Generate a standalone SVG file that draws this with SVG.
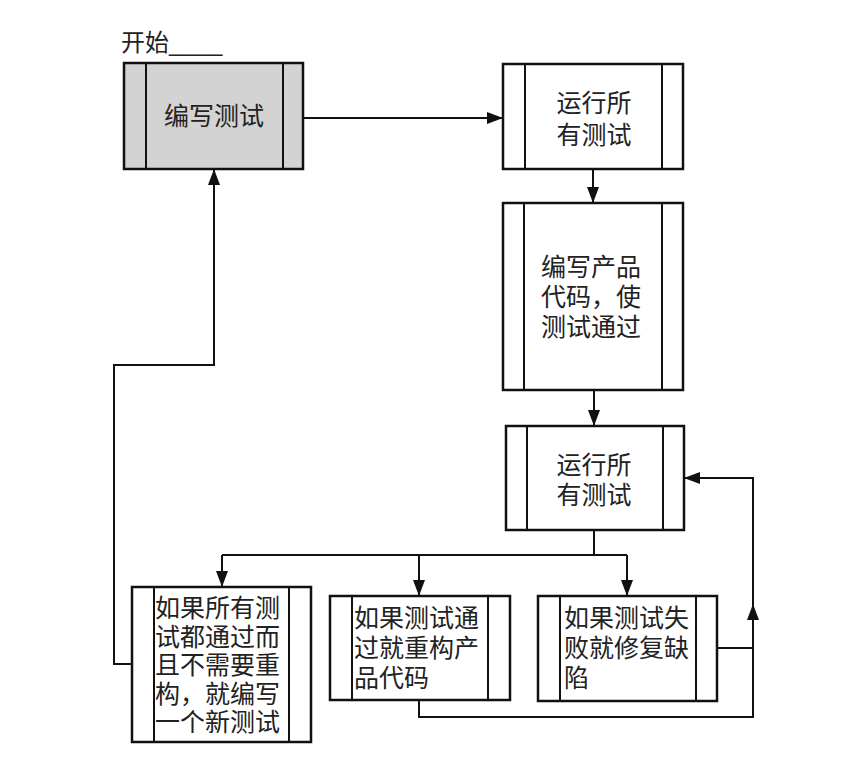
<svg xmlns="http://www.w3.org/2000/svg" width="867" height="758" viewBox="0 0 867 758">
<style>
.box{fill:#ffffff;stroke:#111;stroke-width:2.5}
.start{fill:#d3d3d3}
.bar{stroke:#111;stroke-width:2;fill:none}
.t{font-family:"Noto Sans CJK SC","Noto Sans CJK TC",sans-serif;font-size:25px;fill:#222}
.c{text-anchor:middle}
.lbl{font-family:"Liberation Sans","Noto Sans CJK SC",sans-serif;font-size:24px;fill:#222}
.conn path{fill:none;stroke:#111;stroke-width:2}
</style>
<defs>
<marker id="ah" viewBox="0 0 16 12" refX="16" refY="6" markerWidth="16" markerHeight="12" markerUnits="userSpaceOnUse" orient="auto">
<path d="M0,0 L16,6 L0,12 z" fill="#111"/>
</marker>
</defs>
<rect width="867" height="758" fill="#ffffff"/>

<text class="lbl" x="121" y="51">开始____</text>

<g id="n1">
<rect class="box start" x="124" y="63" width="179" height="106"/>
<path class="bar" d="M146,63 V169 M283,63 V169"/>
<text class="t c" x="214" y="125">编写测试</text>
</g>

<g id="n2">
<rect class="box" x="503" y="64" width="180" height="105"/>
<path class="bar" d="M525,64 V169 M662,64 V169"/>
<text class="t c" x="594" y="112">运行所</text>
<text class="t c" x="594" y="144">有测试</text>
</g>

<g id="n3">
<rect class="box" x="503" y="203" width="180" height="187"/>
<path class="bar" d="M524,203 V390 M662,203 V390"/>
<text class="t c" x="591" y="276">编写产品</text>
<text class="t c" x="591" y="306">代码，使</text>
<text class="t c" x="591" y="336">测试通过</text>
</g>

<g id="n4">
<rect class="box" x="506" y="426" width="178" height="104"/>
<path class="bar" d="M527,426 V530 M663,426 V530"/>
<text class="t c" x="594" y="474">运行所</text>
<text class="t c" x="594" y="504">有测试</text>
</g>

<g id="n5">
<rect class="box" x="132" y="587" width="179" height="155"/>
<path class="bar" d="M154,587 V742 M289,587 V742"/>
<text class="t" x="155" y="617">如果所有测</text>
<text class="t" x="155" y="646">试都通过而</text>
<text class="t" x="155" y="674">且不需要重</text>
<text class="t" x="155" y="703">构，就编写</text>
<text class="t" x="155" y="731">一个新测试</text>
</g>

<g id="n6">
<rect class="box" x="330" y="596" width="180" height="104"/>
<path class="bar" d="M352,596 V700 M488,596 V700"/>
<text class="t" x="354" y="627">如果测试通</text>
<text class="t" x="354" y="657">过就重构产</text>
<text class="t" x="354" y="687">品代码</text>
</g>

<g id="n7">
<rect class="box" x="538" y="596" width="179" height="105"/>
<path class="bar" d="M560,596 V701 M696,596 V701"/>
<text class="t" x="564" y="627">如果测试失</text>
<text class="t" x="564" y="657">败就修复缺</text>
<text class="t" x="564" y="687">陷</text>
</g>

<g id="connectors" class="conn">
<path d="M303,118 H503" marker-end="url(#ah)"/>
<path d="M593,169 V203" marker-end="url(#ah)"/>
<path d="M594,390 V426" marker-end="url(#ah)"/>
<path d="M594,530 V555 M222,555 H627"/>
<path d="M222,555 V587" marker-end="url(#ah)"/>
<path d="M419,555 V596" marker-end="url(#ah)"/>
<path d="M627,555 V596" marker-end="url(#ah)"/>
<path d="M132,664 H114 V365 H214 V169" marker-end="url(#ah)"/>
<path d="M419,700 V717 H753 V478 H684" marker-end="url(#ah)"/>
<path d="M717,648 H753"/>
<polygon points="753,604 759,620 747,620" fill="#111"/>
</g>
</svg>
